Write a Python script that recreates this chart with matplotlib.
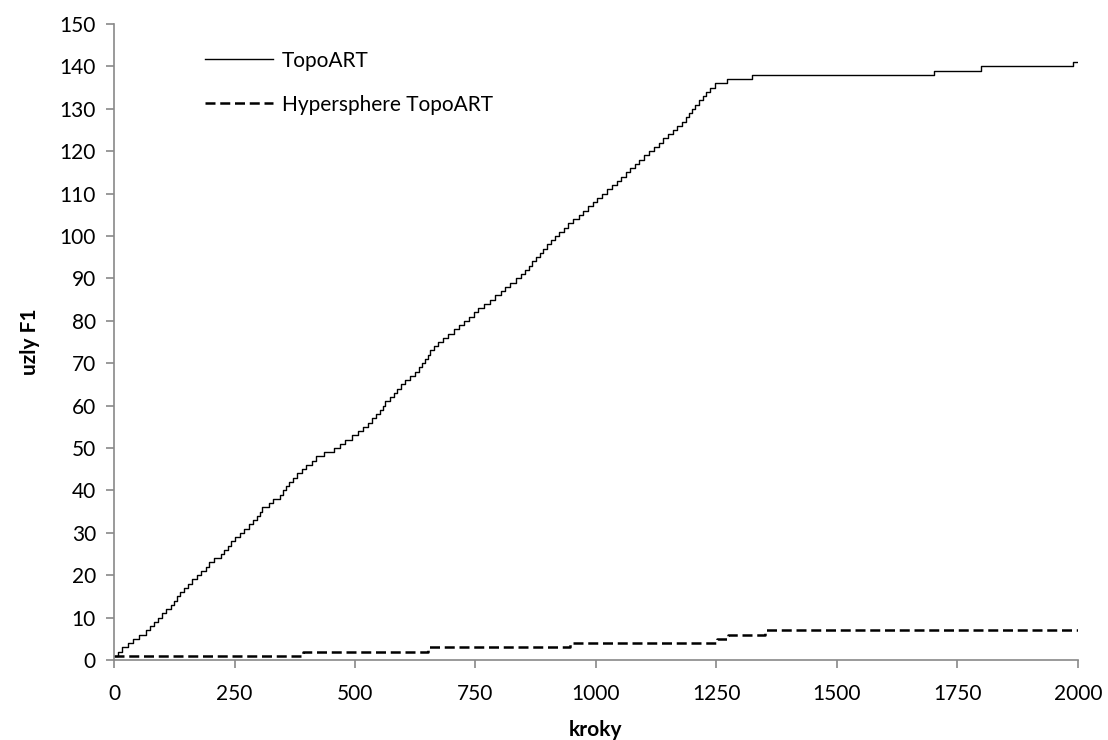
import numpy as np
import matplotlib.pyplot as plt

# kroky, ve kterych pribyl novy uzel F1
topoart_kroky = [0, 8, 16, 30, 40, 52, 66, 74, 84, 92, 100, 108, 118, 124, 130, 137,
                 146, 154, 162, 172, 180, 190, 198, 208, 222, 228, 236, 242, 250,
                 262, 270, 280, 288, 296, 302, 308, 322, 330, 344, 350, 356, 364,
                 372, 380, 390, 398, 410, 420, 436, 456, 468, 480, 494, 506, 516,
                 528, 536, 544, 552, 558, 562, 572, 580, 588, 596, 604, 614, 624,
                 632, 640, 646, 652, 656, 664, 672, 682, 692, 706, 716, 726, 736,
                 746, 756, 768, 780, 790, 802, 812, 822, 834, 844, 852, 860, 868,
                 876, 884, 890, 898, 906, 914, 924, 934, 942, 952, 964, 974, 984,
                 994, 1002, 1012, 1022, 1034, 1044, 1052, 1062, 1070, 1080, 1090,
                 1100, 1110, 1120, 1130, 1140, 1150, 1160, 1168, 1178, 1186, 1192,
                 1200, 1206, 1214, 1222, 1228, 1236, 1246, 1272, 1324, 1701, 1799,
                 1989]
hyper_kroky = [0, 392, 652, 946, 1251, 1274, 1351]
konec = 2000


def schody(kroky):
    x = np.array(kroky + [konec])
    y = np.arange(1, len(kroky) + 1)
    return x, np.append(y, y[-1])


plt.rcParams['font.family'] = ['Lato', 'DejaVu Sans']
fig = plt.figure(figsize=(11.08, 7.40), dpi=100)
ax = fig.add_axes([0.1029, 0.1081, 0.87, 0.8595])

x, y = schody(topoart_kroky)
ax.step(x, y, where='post', color='black', lw=1.0, label='TopoART')
x, y = schody(hyper_kroky)
ax.step(x, y, where='post', color='black', lw=1.8, dashes=(4.0, 1.9),
        label='Hypersphere TopoART')

ax.set_xlim(0, 2000)
ax.set_ylim(0, 150)
ax.set_xticks(np.arange(0, 2001, 250))
ax.set_yticks(np.arange(0, 151, 10))

gray = '#898989'
for s in ['top', 'right']:
    ax.spines[s].set_visible(False)
for s in ['left', 'bottom']:
    ax.spines[s].set_color(gray)
    ax.spines[s].set_linewidth(1.2)
ax.tick_params(axis='both', colors=gray, labelcolor='black', labelsize=15,
               length=6, width=1.2, direction='out')
ax.tick_params(axis='x', pad=11)
ax.tick_params(axis='y', pad=7)

ax.set_xlabel('kroky', fontsize=15, fontweight='bold', labelpad=12)
ax.set_ylabel('uzly F1', fontsize=15, fontweight='bold', labelpad=14)

ax.legend(loc='upper left', bbox_to_anchor=(0.094, 0.958), frameon=False,
          fontsize=15, handlelength=3.3, handletextpad=0.4, labelspacing=1.15,
          borderpad=0, borderaxespad=0)

fig.savefig('out.png', dpi=100)
